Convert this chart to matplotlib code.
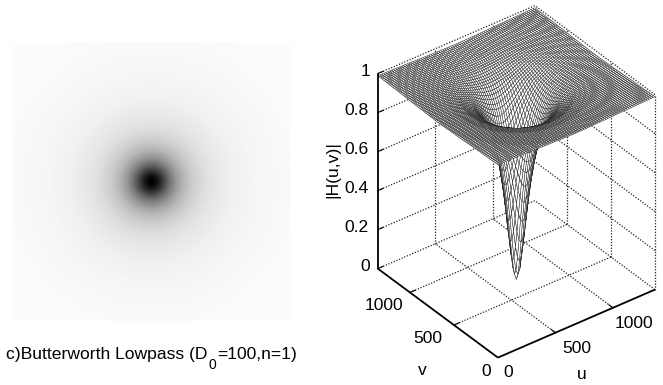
import numpy as np
import matplotlib
matplotlib.use('Agg')
import matplotlib.pyplot as plt
from mpl_toolkits.mplot3d import proj3d

plt.rcParams['font.family'] = ['Liberation Sans', 'DejaVu Sans']

# radial profile of |H| (distance from centre, value)
radius = [0, 10, 20, 30, 40, 50, 60, 70, 80, 90, 100, 120, 140, 160, 180, 200,
          250, 300, 350, 400, 500, 600, 700, 800, 1000]
gain = [0, .01, .04, .08, .14, .20, .26, .33, .39, .45, .50, .59, .66, .72, .76, .80,
        .86, .90, .92, .94, .96, .97, .98, .985, .99]

size_uv = 1365
uv_ticks = [0, 500, 1000]
z_ticks = [0, 0.2, 0.4, 0.6, 0.8, 1]
z_tick_labels = ['0', '0.2', '0.4', '0.6', '0.8', '1']
caption_parts = ['c)Butterworth Lowpass (D', '0', '=100,n=1)']

W, H = 663, 385


def surface(n):
    u = np.linspace(0, size_uv, n)
    uu, vv = np.meshgrid(u, u)
    d = np.hypot(uu - size_uv / 2, vv - size_uv / 2)
    return uu, vv, np.interp(d, radius, gain)


fig = plt.figure(figsize=(W / 100, H / 100), dpi=100)

# left: filter shown as an image
ax_im = fig.add_axes([12 / W, 1 - 321 / H, 279 / W, 279 / H])
ax_im.imshow(surface(280)[2], cmap='gray', vmin=0, vmax=1, interpolation='bilinear')
ax_im.axis('off')
fig.text(207 / W, 1 - 355 / H, caption_parts[0], ha='right', va='center', fontsize=12.6)
fig.text(212.5 / W, 1 - 365 / H, caption_parts[1], ha='center', va='center', fontsize=10)
fig.text(217 / W, 1 - 355 / H, caption_parts[2], ha='left', va='center', fontsize=12.6)

# right: mesh, orthographic view with the u=v=0 corner at the front
side = 400
ax = fig.add_axes([311 / W, -2 / H, side / W, side / H], projection='3d',
                  proj_type='ortho', computed_zorder=False)
ax.view_init(elev=34.5, azim=-127.4)
ax.set_box_aspect((1, 1, 1.197), zoom=0.889)
ax.set_xlim(0, size_uv)
ax.set_ylim(0, size_uv)
ax.set_zlim(0, 1)
ax.set_axis_off()
ax.patch.set_alpha(0)

dots = dict(color='#222222', lw=0.9, ls=(0, (1, 1.3)), zorder=1)
m = size_uv
for t in uv_ticks[1:]:
    ax.plot([t, t], [0, m], [0, 0], **dots)
    ax.plot([0, m], [t, t], [0, 0], **dots)
    ax.plot([t, t], [m, m], [0, 1], **dots)
    ax.plot([m, m], [t, t], [0, 1], **dots)
for z in z_ticks:
    ax.plot([0, m], [m, m], [z, z], **dots)
    ax.plot([m, m], [0, m], [z, z], **dots)
ax.plot([m, m], [0, 0], [0, 1], **dots)

uu, vv, hh = surface(81)
ax.plot_surface(uu, vv, hh, rstride=1, cstride=1, color='white', edgecolor='#222222',
                linewidth=0.33, shade=False, zorder=2, antialiased=True)

solid = dict(color='black', lw=1.3, zorder=3, solid_capstyle='butt')
ax.plot([0, m], [0, 0], [0, 0], **solid)
ax.plot([0, 0], [0, m], [0, 0], **solid)
ax.plot([0, 0], [m, m], [0, 1], **solid)
for t in uv_ticks[1:]:
    ax.plot([t, t], [0, 45], [0, 0], color='black', lw=0.8, zorder=3)
    ax.plot([0, 45], [t, t], [0, 0], color='black', lw=0.8, zorder=3)
for z in z_ticks:
    ax.plot([0, 45], [m, m], [z, z], color='black', lw=0.8, zorder=3)

# labels sit at a pixel offset from their 3d anchor
fig.canvas.draw()
proj = ax.get_proj()


def label(x, y, z, s, dx, dy, **kw):
    px, py, _ = proj3d.proj_transform(x, y, z, proj)
    ax.annotate(s, (px, py), xytext=(dx * 0.72, dy * 0.72), textcoords='offset points',
                ha='center', va='center', fontsize=12.6, annotation_clip=False, **kw)


for z, s in zip(z_ticks, z_tick_labels):
    label(0, m, z, s, -8 - 4.4 * len(s), 2)
for t in uv_ticks[1:]:
    label(t, 0, 0, str(t), 21, -16)
    label(0, t, 0, str(t), -26, -13)
label(0, 0, 0, '0', 10, -15)
label(0, 0, 0, '0', -12, -14)
label(0, m, 0.5, '|H(u,v)|', -45, 2, rotation=90)
label(0, 0, 0, 'u', 84, -17)
label(0, 0, 0, 'v', -76, -13)

fig.savefig('out.png', dpi=100)
